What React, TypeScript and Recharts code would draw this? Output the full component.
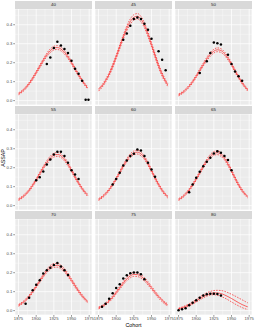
import React from 'react';
import { ComposedChart, Line, Scatter, XAxis, YAxis, CartesianGrid } from 'recharts';

const cohortGrid = [1875, 1880, 1885, 1890, 1895, 1900, 1905, 1910, 1915, 1920, 1925, 1930, 1935, 1940, 1945, 1950, 1955, 1960, 1965, 1970, 1973];

const fit40 = [0.036, 0.049, 0.067, 0.090, 0.117, 0.148, 0.180, 0.212, 0.241, 0.263, 0.277, 0.280, 0.272, 0.255, 0.230, 0.200, 0.167, 0.135, 0.106, 0.080, 0.067];
const lo40 = [0.031, 0.044, 0.061, 0.084, 0.110, 0.141, 0.172, 0.204, 0.232, 0.253, 0.267, 0.270, 0.262, 0.246, 0.221, 0.192, 0.159, 0.128, 0.099, 0.074, 0.061];
const hi40 = [0.041, 0.054, 0.073, 0.096, 0.124, 0.155, 0.188, 0.220, 0.250, 0.273, 0.287, 0.290, 0.282, 0.264, 0.239, 0.208, 0.175, 0.142, 0.113, 0.086, 0.073];

const fit45 = [0.057, 0.077, 0.105, 0.139, 0.182, 0.231, 0.283, 0.335, 0.381, 0.417, 0.439, 0.445, 0.430, 0.397, 0.350, 0.295, 0.238, 0.184, 0.138, 0.101, 0.083];
const lo45 = [0.050, 0.070, 0.097, 0.131, 0.172, 0.221, 0.272, 0.324, 0.368, 0.403, 0.425, 0.431, 0.416, 0.384, 0.337, 0.284, 0.227, 0.174, 0.128, 0.093, 0.075];
const hi45 = [0.064, 0.084, 0.113, 0.147, 0.192, 0.241, 0.294, 0.346, 0.394, 0.431, 0.453, 0.459, 0.444, 0.410, 0.363, 0.306, 0.249, 0.194, 0.148, 0.109, 0.091];

const fit50 = [0.030, 0.041, 0.056, 0.076, 0.100, 0.128, 0.159, 0.190, 0.219, 0.244, 0.261, 0.268, 0.264, 0.248, 0.223, 0.192, 0.157, 0.124, 0.094, 0.069, 0.056];
const lo50 = [0.025, 0.036, 0.050, 0.070, 0.093, 0.121, 0.151, 0.182, 0.210, 0.234, 0.251, 0.258, 0.254, 0.239, 0.214, 0.184, 0.149, 0.117, 0.087, 0.063, 0.050];
const hi50 = [0.035, 0.046, 0.062, 0.082, 0.107, 0.135, 0.167, 0.198, 0.228, 0.254, 0.271, 0.278, 0.274, 0.257, 0.232, 0.200, 0.165, 0.131, 0.101, 0.075, 0.062];

const fit55 = [0.032, 0.044, 0.060, 0.081, 0.107, 0.136, 0.168, 0.200, 0.228, 0.251, 0.266, 0.270, 0.263, 0.245, 0.218, 0.186, 0.151, 0.119, 0.090, 0.066, 0.054];
const lo55 = [0.027, 0.039, 0.054, 0.075, 0.100, 0.129, 0.160, 0.192, 0.219, 0.241, 0.256, 0.260, 0.253, 0.236, 0.209, 0.178, 0.143, 0.112, 0.083, 0.060, 0.048];
const hi55 = [0.037, 0.049, 0.066, 0.087, 0.114, 0.143, 0.176, 0.208, 0.237, 0.261, 0.276, 0.280, 0.273, 0.254, 0.227, 0.194, 0.159, 0.126, 0.097, 0.072, 0.060];

const fit60 = [0.032, 0.045, 0.062, 0.084, 0.111, 0.142, 0.175, 0.209, 0.239, 0.263, 0.278, 0.282, 0.273, 0.252, 0.221, 0.184, 0.146, 0.111, 0.081, 0.057, 0.046];
const lo60 = [0.027, 0.040, 0.056, 0.078, 0.104, 0.135, 0.167, 0.201, 0.230, 0.253, 0.268, 0.272, 0.263, 0.243, 0.212, 0.176, 0.138, 0.104, 0.074, 0.051, 0.040];
const hi60 = [0.037, 0.050, 0.068, 0.090, 0.118, 0.149, 0.183, 0.217, 0.248, 0.273, 0.288, 0.292, 0.283, 0.261, 0.230, 0.192, 0.154, 0.118, 0.088, 0.063, 0.052];

const fit65 = [0.032, 0.044, 0.061, 0.083, 0.110, 0.140, 0.173, 0.206, 0.236, 0.260, 0.275, 0.279, 0.270, 0.250, 0.219, 0.183, 0.145, 0.110, 0.080, 0.057, 0.046];
const lo65 = [0.027, 0.039, 0.055, 0.077, 0.103, 0.133, 0.165, 0.198, 0.227, 0.250, 0.265, 0.269, 0.260, 0.241, 0.210, 0.175, 0.137, 0.103, 0.073, 0.051, 0.040];
const hi65 = [0.037, 0.049, 0.067, 0.089, 0.117, 0.147, 0.181, 0.214, 0.245, 0.270, 0.285, 0.289, 0.280, 0.259, 0.228, 0.191, 0.153, 0.117, 0.087, 0.063, 0.052];

const fit70 = [0.028, 0.040, 0.055, 0.076, 0.100, 0.127, 0.156, 0.184, 0.209, 0.228, 0.238, 0.239, 0.230, 0.213, 0.188, 0.160, 0.131, 0.103, 0.078, 0.057, 0.046];
const lo70 = [0.023, 0.035, 0.049, 0.070, 0.093, 0.120, 0.148, 0.176, 0.200, 0.218, 0.228, 0.229, 0.220, 0.204, 0.179, 0.152, 0.123, 0.096, 0.071, 0.051, 0.040];
const hi70 = [0.033, 0.045, 0.061, 0.082, 0.107, 0.134, 0.164, 0.192, 0.218, 0.238, 0.248, 0.249, 0.240, 0.222, 0.197, 0.168, 0.139, 0.110, 0.085, 0.063, 0.052];

const fit75 = [0.014, 0.023, 0.035, 0.051, 0.071, 0.095, 0.120, 0.145, 0.167, 0.183, 0.191, 0.190, 0.181, 0.165, 0.144, 0.120, 0.096, 0.073, 0.054, 0.037, 0.030];
const lo75 = [0.009, 0.018, 0.029, 0.045, 0.064, 0.088, 0.112, 0.137, 0.158, 0.173, 0.181, 0.180, 0.171, 0.156, 0.135, 0.112, 0.088, 0.066, 0.047, 0.031, 0.024];
const hi75 = [0.019, 0.028, 0.041, 0.057, 0.078, 0.102, 0.128, 0.153, 0.176, 0.193, 0.201, 0.200, 0.191, 0.174, 0.153, 0.128, 0.104, 0.080, 0.061, 0.043, 0.036];

const fit80 = [0.010, 0.015, 0.022, 0.030, 0.040, 0.051, 0.063, 0.074, 0.083, 0.090, 0.094, 0.093, 0.090, 0.083, 0.074, 0.064, 0.053, 0.042, 0.032, 0.024, 0.020];
const lo80 = [0.007, 0.011, 0.017, 0.025, 0.034, 0.045, 0.056, 0.067, 0.076, 0.082, 0.084, 0.081, 0.075, 0.067, 0.057, 0.046, 0.035, 0.025, 0.016, 0.009, 0.006];
const hi80 = [0.013, 0.019, 0.027, 0.036, 0.047, 0.059, 0.072, 0.084, 0.094, 0.101, 0.106, 0.107, 0.106, 0.102, 0.095, 0.086, 0.077, 0.067, 0.057, 0.047, 0.041];

const obs40x = [1915, 1920, 1925, 1930, 1935, 1940, 1945, 1950, 1955, 1960, 1965, 1970, 1974];
const obs40y = [0.193, 0.228, 0.277, 0.310, 0.291, 0.272, 0.251, 0.210, 0.168, 0.142, 0.105, 0.005, 0.005];
const obs45x = [1910, 1915, 1920, 1925, 1930, 1935, 1940, 1945, 1950, 1960, 1965, 1970];
const obs45y = [0.321, 0.354, 0.395, 0.430, 0.438, 0.430, 0.405, 0.374, 0.326, 0.260, 0.216, 0.160];
const obs50x = [1905, 1915, 1920, 1925, 1930, 1935, 1945, 1950, 1955, 1960, 1965];
const obs50y = [0.146, 0.207, 0.251, 0.306, 0.303, 0.296, 0.242, 0.193, 0.154, 0.128, 0.105];
const obs55x = [1900, 1905, 1910, 1915, 1920, 1925, 1930, 1935, 1940, 1945, 1950, 1955, 1960];
const obs55y = [0.134, 0.150, 0.180, 0.217, 0.243, 0.270, 0.284, 0.284, 0.261, 0.226, 0.187, 0.164, 0.141];
const obs60x = [1895, 1900, 1905, 1910, 1915, 1920, 1925, 1930, 1935, 1940, 1945, 1950, 1955];
const obs60y = [0.111, 0.141, 0.173, 0.212, 0.238, 0.261, 0.273, 0.296, 0.291, 0.261, 0.226, 0.190, 0.152];
const obs65x = [1890, 1895, 1900, 1905, 1910, 1915, 1920, 1925, 1930, 1935, 1940, 1945, 1950];
const obs65y = [0.070, 0.111, 0.147, 0.178, 0.208, 0.231, 0.252, 0.275, 0.287, 0.279, 0.261, 0.240, 0.187];
const obs70x = [1885, 1890, 1895, 1900, 1905, 1910, 1915, 1920, 1925, 1930, 1935, 1940, 1945];
const obs70y = [0.036, 0.068, 0.107, 0.137, 0.160, 0.196, 0.213, 0.226, 0.240, 0.251, 0.233, 0.213, 0.188];
const obs75x = [1880, 1885, 1890, 1895, 1900, 1905, 1910, 1915, 1920, 1925, 1930, 1935, 1940];
const obs75y = [0.020, 0.036, 0.062, 0.091, 0.119, 0.139, 0.169, 0.187, 0.197, 0.201, 0.201, 0.192, 0.165];
const obs80x = [1875, 1880, 1885, 1890, 1895, 1900, 1905, 1910, 1915, 1920, 1925, 1930, 1935];
const obs80y = [0.002, 0.007, 0.012, 0.028, 0.042, 0.055, 0.068, 0.080, 0.086, 0.089, 0.089, 0.088, 0.080];

const ageLabels = ['40', '45', '50', '55', '60', '65', '70', '75', '80'];
const fits = [fit40, fit45, fit50, fit55, fit60, fit65, fit70, fit75, fit80];
const lows = [lo40, lo45, lo50, lo55, lo60, lo65, lo70, lo75, lo80];
const highs = [hi40, hi45, hi50, hi55, hi60, hi65, hi70, hi75, hi80];
const obsXs = [obs40x, obs45x, obs50x, obs55x, obs60x, obs65x, obs70x, obs75x, obs80x];
const obsYs = [obs40y, obs45y, obs50y, obs55y, obs60y, obs65y, obs70y, obs75y, obs80y];

const xTicks = [1875, 1900, 1925, 1950, 1975];
const xMinor = [1887.5, 1912.5, 1937.5, 1962.5];
const yTicks = [0, 0.1, 0.2, 0.3, 0.4];
const yMinor = [0.05, 0.15, 0.25, 0.35, 0.45];
const X_DOMAIN: [number, number] = [1870, 1979];
const Y_DOMAIN: [number, number] = [-0.023, 0.483];

const FONT = '"Liberation Sans", Arial, sans-serif';
const COL_LEFT = [15, 95, 175];
const STRIP_TOP = [1, 106, 211];
const PANEL_W = 77;
const PANEL_H = 96;
const STRIP_H = 8;
const YAXIS_W = 15;
const XAXIS_H = 10;
const SIDE_PAD = 4;

function scaleFn(ax: any): ((v: number) => number) | null {
  if (!ax) return null;
  const s = ax.scale;
  if (typeof s === 'function') return (v: number) => s(v);
  if (s && typeof s.map === 'function') return (v: number) => s.map(v);
  if (s && typeof s.scale === 'function') return (v: number) => s.scale(v);
  return null;
}

const minorH = (props: any) => {
  const f = scaleFn(props && props.yAxis);
  return f ? yMinor.map(f).filter((n) => typeof n === 'number' && !isNaN(n)) : [];
};
const minorV = (props: any) => {
  const f = scaleFn(props && props.xAxis);
  return f ? xMinor.map(f).filter((n) => typeof n === 'number' && !isNaN(n)) : [];
};

const Dot = (p: any) => <circle cx={p.cx} cy={p.cy} r={1.25} fill="#000000" />;

function Panel({ idx }: { idx: number }) {
  const row = Math.floor(idx / 3);
  const col = idx % 3;
  const showY = col === 0;
  const showX = row === 2;
  const lineData = cohortGrid.map((x, i) => ({ x, fit: fits[idx][i], lo: lows[idx][i], hi: highs[idx][i] }));
  const obsData = obsXs[idx].map((x, i) => ({ x, y: obsYs[idx][i] }));
  const padL = showY ? 0 : (showX ? SIDE_PAD : 0);
  const padR = showX ? SIDE_PAD : 0;
  const axisW = showY ? YAXIS_W : 0;
  const left = COL_LEFT[col] - axisW - padL;
  const top = STRIP_TOP[row];
  return (
    <div style={{ position: 'absolute', left, top }}>
      <div
        style={{
          position: 'absolute',
          left: axisW + padL,
          top: 0,
          width: PANEL_W,
          height: STRIP_H,
          background: '#D9D9D9',
          color: '#1A1A1A',
          fontSize: 4.4,
          fontFamily: FONT,
          lineHeight: `${STRIP_H}px`,
          textAlign: 'center',
        }}
      >
        {ageLabels[idx]}
      </div>
      <div style={{ position: 'absolute', left: 0, top: STRIP_H }}>
        <ComposedChart
          width={PANEL_W + axisW + padL + padR}
          height={PANEL_H + (showX ? XAXIS_H : 0)}
          margin={{ top: 0, right: padR, bottom: 0, left: padL }}
        >
          <CartesianGrid
            fill="#EBEBEB"
            stroke="#FFFFFF"
            strokeWidth={0.35}
            horizontalCoordinatesGenerator={minorH}
            verticalCoordinatesGenerator={minorV}
          />
          <CartesianGrid stroke="#FFFFFF" strokeWidth={0.75} />
          <XAxis
            type="number"
            dataKey="x"
            domain={X_DOMAIN}
            ticks={xTicks}
            allowDataOverflow
            hide={!showX}
            height={XAXIS_H}
            axisLine={false}
            tickSize={1.8}
            tickLine={{ stroke: '#333333', strokeWidth: 0.5 }}
            tickMargin={0.5}
            tick={{ fontSize: 4.2, fill: '#4D4D4D', fontFamily: FONT }}
            interval={0}
          />
          <YAxis
            type="number"
            domain={Y_DOMAIN}
            ticks={yTicks}
            allowDataOverflow
            hide={!showY}
            width={YAXIS_W}
            axisLine={false}
            tickSize={1.8}
            tickLine={{ stroke: '#333333', strokeWidth: 0.5 }}
            tickMargin={0.8}
            tick={{ fontSize: 4.2, fill: '#4D4D4D', fontFamily: FONT }}
            tickFormatter={(v: number) => v.toFixed(1)}
            interval={0}
          />
          <Line data={lineData} dataKey="hi" type="monotone" stroke="#FF0000" strokeWidth={0.6} strokeDasharray="1.6 1.2" dot={false} activeDot={false} isAnimationActive={false} />
          <Line data={lineData} dataKey="lo" type="monotone" stroke="#FF0000" strokeWidth={0.6} strokeDasharray="1.6 1.2" dot={false} activeDot={false} isAnimationActive={false} />
          <Line data={lineData} dataKey="fit" type="monotone" stroke="#FF0000" strokeWidth={0.6} dot={false} activeDot={false} isAnimationActive={false} />
          <Scatter data={obsData} dataKey="y" shape={Dot} isAnimationActive={false} />
        </ComposedChart>
      </div>
    </div>
  );
}

export default function App() {
  return (
    <div style={{ position: 'absolute', left: 0, top: 0, width: 255, height: 330, background: '#FFFFFF', overflow: 'hidden' }}>
      {ageLabels.map((_, i) => (
        <Panel key={i} idx={i} />
      ))}
      <svg width={255} height={330} style={{ position: 'absolute', left: 0, top: 0, pointerEvents: 'none' }}>
        <text x={133.5} y={327} textAnchor="middle" fontSize={5.3} fontFamily={FONT} fill="#000000">Cohort</text>
        <text x={0} y={0} transform="translate(4.6,158) rotate(-90)" textAnchor="middle" fontSize={5.3} fontFamily={FONT} fill="#000000">ASSAP</text>
      </svg>
    </div>
  );
}
